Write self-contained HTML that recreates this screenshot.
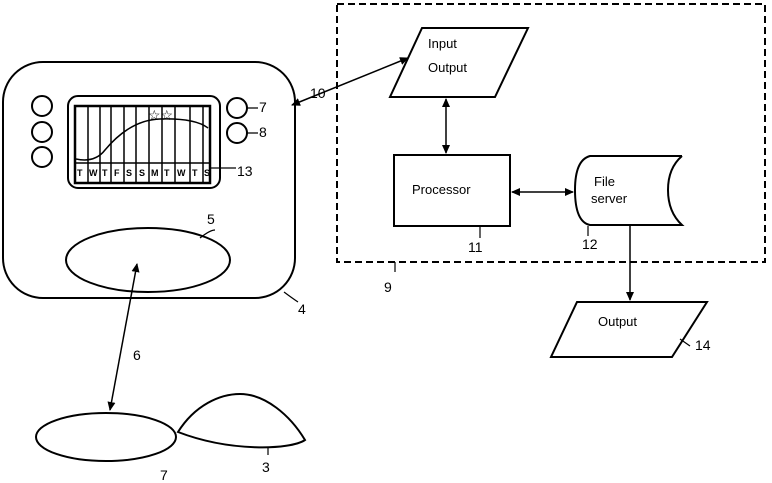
<html><body style="margin:0;background:#fff">
<svg width="772" height="483" viewBox="0 0 772 483" xmlns="http://www.w3.org/2000/svg" font-family="Liberation Sans, sans-serif" fill="none" stroke="#000" stroke-width="2">
<defs><marker id="a" markerWidth="10" markerHeight="10" refX="8" refY="5" orient="auto-start-reverse" markerUnits="userSpaceOnUse"><path d="M0,1 L9,5 L0,9z" fill="#000" stroke="none"/></marker></defs>
<rect x="337" y="4" width="428" height="258" stroke-dasharray="7,4"/>
<path d="M422,28 L528,28 L495,97 L390,97z"/>
<rect x="394" y="155" width="116" height="71"/>
<path d="M682,156 L590,156 Q575,160 575,190 Q575,222 590,225 L682,225 Q668,212 668,190 Q668,168 682,156"/>
<path d="M577,302 L707,302 L672,357 L551,357z"/>
<line x1="446" y1="99" x2="446" y2="153" marker-start="url(#a)" marker-end="url(#a)" stroke-width="1.5"/>
<line x1="512" y1="192" x2="573" y2="192" marker-start="url(#a)" marker-end="url(#a)" stroke-width="1.5"/>
<line x1="630" y1="226" x2="630" y2="300" marker-end="url(#a)" stroke-width="1.5"/>
<line x1="292" y1="105" x2="408" y2="58" marker-start="url(#a)" marker-end="url(#a)" stroke-width="1.5"/>
<rect x="3" y="62" width="292" height="236" rx="40"/>
<rect x="68" y="96" width="152" height="92" rx="10"/>
<rect x="75" y="106" width="135" height="77" stroke-width="2.5"/>
<g stroke-width="1.5"><path d="M88,106V183M100,106V183M111,106V183M124,106V183M136,106V183M149,106V183M162,106V183M175,106V183M190,106V183M203,106V183"/>
<line x1="75" y1="163" x2="210" y2="163"/>
<path d="M76,159 Q95,163 105,150 Q130,120 160,119 Q195,118 208,128"/></g>
<g font-size="9" fill="#000" stroke="none" font-weight="bold"><text x="77" y="176">T</text><text x="89" y="176">W</text><text x="102" y="176">T</text><text x="114" y="176">F</text><text x="126" y="176">S</text><text x="139" y="176">S</text><text x="151" y="176">M</text><text x="164" y="176">T</text><text x="177" y="176">W</text><text x="192" y="176">T</text><text x="204" y="176">S</text></g>
<text x="148" y="120" font-size="14" fill="#000" stroke="none">☆☆</text>
<circle cx="42" cy="106" r="10"/><circle cx="42" cy="132" r="10"/><circle cx="42" cy="157" r="10"/>
<circle cx="237" cy="108" r="10"/><circle cx="237" cy="133" r="10"/>
<ellipse cx="148" cy="260" rx="82" ry="32"/>
<line x1="110" y1="410" x2="137" y2="264" marker-start="url(#a)" marker-end="url(#a)" stroke-width="1.5"/>
<ellipse cx="106" cy="437" rx="70" ry="24"/>
<path d="M178,432 C195,405 220,394 240,394 C265,394 290,415 305,440 C290,450 230,452 178,432 Z"/>
<g stroke-width="1.2"><path d="M247,108H258M247,133H258M210,168H236M200,238Q210,230 215,230M284,292Q292,298 298,302M480,226V238M588,226V236M395,262V272M680,339L690,346M268,447V455"/></g>
<g fill="#000" stroke="none" font-family="Liberation Sans, sans-serif">
<text x="428" y="48" font-size="13">Input</text><text x="428" y="72" font-size="13">Output</text>
<text x="412" y="194" font-size="13">Processor</text>
<text x="594" y="186" font-size="13">File</text><text x="591" y="203" font-size="13">server</text>
<text x="598" y="326" font-size="13">Output</text>
<g font-size="14"><text x="259" y="112">7</text><text x="259" y="137">8</text><text x="237" y="176">13</text><text x="207" y="224">5</text><text x="298" y="314">4</text><text x="310" y="98">10</text><text x="133" y="360">6</text><text x="468" y="252">11</text><text x="582" y="249">12</text><text x="384" y="292">9</text><text x="695" y="350">14</text><text x="262" y="472">3</text><text x="160" y="480">7</text></g>
</g>
</svg>
</body></html>
